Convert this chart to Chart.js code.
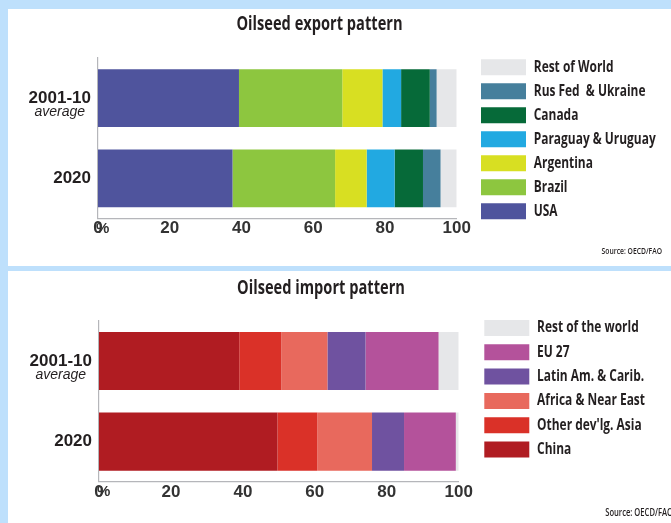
<!DOCTYPE html>
<html>
<head>
<meta charset="utf-8">
<title>Oilseed trade patterns</title>
<script src="https://cdn.jsdelivr.net/npm/chart.js@4.4.1/dist/chart.umd.min.js"></script>
<style>
  html, body { margin: 0; padding: 0; }
  body { width: 671px; height: 523px; background: #bee0fc; position: relative; overflow: hidden; }
  .panel { position: absolute; left: 8px; width: 663px; background: #ffffff; }
  canvas { position: absolute; }
</style>
</head>
<body>
<div class="panel" style="top:9px;height:257px"></div>
<div class="panel" style="top:271px;height:252px"></div>
<canvas id="exportChart" width="685" height="257" style="left:-23px;top:9px"></canvas>
<canvas id="importChart" width="704" height="252" style="left:-31px;top:271px"></canvas>
<script>
// ---- data (shares of world trade, %) ----
const periods = ['2001-10', '2020'];
const periodNotes = ['average', ''];
const shareTicks = [0, 20, 40, 60, 80, 100];

const exportRegions = ['USA', 'Brazil', 'Argentina', 'Paraguay & Uruguay', 'Canada', 'Rus Fed  & Ukraine', 'Rest of World'];
const exportColors  = ['#4f549d', '#8dc63f', '#d8df22', '#22a9e1', '#066a39', '#467f9c', '#e6e7e9'];
const exportAvg     = [39.3, 28.8, 11.2, 5.2, 8.0, 1.9, 5.6];
const export2020    = [37.5, 28.6, 8.8, 7.8, 7.9, 4.9, 4.5];

const importRegions = ['China', "Other dev'lg. Asia", 'Africa & Near East', 'Latin Am. & Carib.', 'EU 27', 'Rest of the world'];
const importColors  = ['#b01c22', '#da3128', '#e8695d', '#6f52a0', '#b4529b', '#e6e7e9'];
const importAvg     = [39.0, 11.7, 12.8, 10.6, 20.3, 5.6];
const import2020    = [49.6, 11.1, 15.2, 8.9, 14.4, 0.8];

// ---- styling ----
const TEXT = '#231f20';
const AXIS = '#b5b6ba';
const HEAD = "'Open Sans', 'DejaVu Sans', sans-serif";
const SANS = "'Liberation Sans', Arial, sans-serif";
const TICK_FONT = { family: SANS, size: 17, weight: 'bold', lineHeight: 1.2 };
const CONDENSE = 0.77;   // horizontal squeeze for the headline, legend and source lettering

// Period labels on the category axis: bold period with an italic note underneath,
// plus the "%" unit that sits on the zero tick.
const periodLabels = {
  id: 'periodLabels',
  afterDraw(chart) {
    const { ctx, chartArea, scales } = chart;
    const y = scales.y, x = scales.x;
    ctx.save();
    ctx.fillStyle = TEXT;
    ctx.textBaseline = 'middle';
    periods.forEach((p, i) => {
      const py = y.getPixelForValue(i);
      const px = chartArea.left - 7;
      ctx.font = `bold 17px ${SANS}`;
      ctx.textAlign = 'right';
      ctx.fillText(p, px, py);
      if (periodNotes[i]) {
        const w = ctx.measureText(p).width;
        ctx.font = `italic 14px ${SANS}`;
        ctx.textAlign = 'center';
        ctx.fillText(periodNotes[i], px - w / 2, py + 14);
      }
    });
    ctx.font = `bold 15px ${SANS}`;
    ctx.textAlign = 'left';
    ctx.fillStyle = '#333333';
    ctx.fillText('%', x.getPixelForValue(0) - 2, chartArea.bottom + TICK_FONT.size * TICK_FONT.lineHeight / 2);
    ctx.restore();
  }
};

// Keeps the legend column at a set width and draws the headline, legend and
// source lettering horizontally condensed.
function boxTweaks(legendW) {
  const condense = (box) => {
    const draw = box.draw;
    box.draw = function (...args) {
      const ctx = this.ctx;
      const fillText = ctx.fillText;
      ctx.fillText = function (text, x, y) {
        this.save();
        this.translate(x, y);
        this.scale(CONDENSE, 1);
        fillText.call(this, text, 0, 0);
        this.restore();
      };
      try { draw.apply(this, args); } finally { delete ctx.fillText; }
    };
  };
  return {
    id: 'boxTweaks',
    beforeInit(chart) {
      const legend = chart.legend;
      const fit = legend.fit;
      legend.fit = function () { fit.call(this); this.width = legendW; };
      chart.boxes.forEach(condense);
    }
  };
}

function makeChart(id, spec) {
  const datasets = spec.regions.map((name, k) => ({
    label: name,
    data: spec.series.map(s => s[k]),
    backgroundColor: spec.colors[k],
    borderWidth: 0
  }));
  return new Chart(document.getElementById(id), {
    type: 'bar',
    data: { labels: periods, datasets },
    plugins: [periodLabels, boxTweaks(spec.legendWidth)],
    options: {
      indexAxis: 'y',
      responsive: false,
      animation: false,
      events: [],
      layout: { padding: 0 },
      scales: {
        x: {
          type: 'linear',
          stacked: true,
          min: 0,
          max: 100,
          afterBuildTicks(scale) { scale.ticks = shareTicks.map(v => ({ value: v })); },
          ticks: { font: TICK_FONT, color: '#333333', padding: 0, maxRotation: 0, callback: v => String(v) },
          grid: { display: false, drawTicks: false },
          border: { display: true, color: AXIS, width: 1.2 }
        },
        y: {
          stacked: true,
          ticks: { display: false },
          grid: { display: false, drawTicks: false },
          border: { display: true, color: AXIS, width: 1.2 },
          afterFit(scale) { scale.width = spec.axisWidth; }
        },
        gap: {
          type: 'linear',
          position: 'right',
          display: true,
          ticks: { display: false },
          grid: { display: false, drawTicks: false },
          border: { display: false },
          afterFit(scale) { scale.width = spec.gap; }
        }
      },
      plugins: {
        tooltip: { enabled: false },
        title: {
          display: true,
          text: spec.title,
          color: TEXT,
          font: { family: HEAD, size: 19, weight: 'bold', lineHeight: 1.2 },
          padding: { top: spec.titlePad[0], bottom: spec.titlePad[1] }
        },
        subtitle: {
          display: true,
          text: 'Source: OECD/FAO',
          position: 'bottom',
          align: 'end',
          color: TEXT,
          font: { family: HEAD, size: spec.sourceSize, weight: '600', lineHeight: 1.2 },
          padding: { top: spec.sourcePad[0], bottom: spec.sourcePad[1] }
        },
        legend: {
          position: 'right',
          align: 'start',
          fullSize: true,
          reverse: true,
          title: {
            display: true,
            text: '',
            font: { size: 10, lineHeight: 1 },
            padding: { top: spec.legendOffset - 10, bottom: 0 }
          },
          labels: {
            boxWidth: 45,
            boxHeight: 16,
            padding: spec.legendPadding,
            color: TEXT,
            font: { family: HEAD, size: 15.5, weight: 'bold', lineHeight: 1.2 }
          }
        }
      }
    }
  });
}

makeChart('exportChart', {
  title: 'Oilseed export pattern',
  regions: exportRegions,
  colors: exportColors,
  series: [exportAvg, export2020],
  axisWidth: 121,
  gap: 16.3,
  legendWidth: 189,
  legendOffset: 42.3,
  legendPadding: 8,
  titlePad: [4.6, 21.6],
  sourceSize: 8.8,
  sourcePad: [7.6, 8.9]
});

makeChart('importChart', {
  title: 'Oilseed import pattern',
  regions: importRegions,
  colors: importColors,
  series: [importAvg, import2020],
  axisWidth: 130,
  gap: 17.3,
  legendWidth: 197,
  legendOffset: 40.7,
  legendPadding: 8.3,
  titlePad: [6.1, 20.8],
  sourceSize: 9.9,
  sourcePad: [4.5, 4.3]
});
</script>
</body>
</html>
